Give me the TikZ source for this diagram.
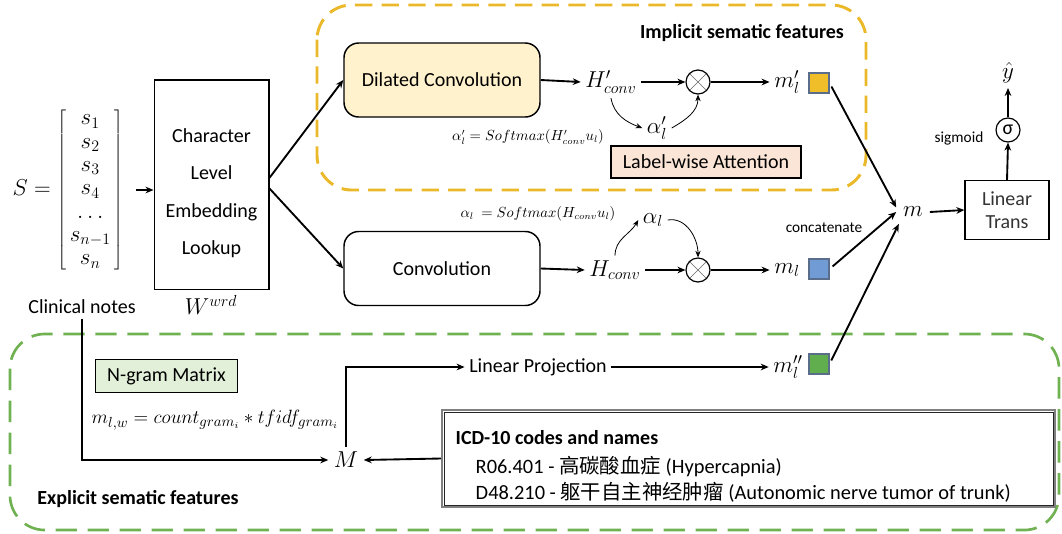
\documentclass[tikz,border=0pt]{standalone}
\usepackage{fontspec}
\setmainfont{Carlito}
\newfontfamily\cjk{Noto Sans CJK SC}
\usetikzlibrary{arrows.meta,calc}
\definecolor{goldd}{RGB}{234,184,40}
\definecolor{greend}{RGB}{112,178,82}
\definecolor{dilfill}{RGB}{255,242,204}
\definecolor{attfill}{RGB}{251,229,214}
\definecolor{ngfill}{RGB}{226,240,217}
\definecolor{sqy}{RGB}{240,190,40}
\definecolor{sqb}{RGB}{112,155,213}
\definecolor{sqg}{RGB}{96,174,78}
\definecolor{sqedge}{RGB}{90,110,140}
\begin{document}
\begin{tikzpicture}[x=0.75pt,y=0.75pt,
  main/.style={font=\fontsize{15}{17.5}\selectfont},
  mth/.style={font=\fontsize{17}{20}\selectfont},
  bold/.style={font=\fontsize{15}{17.5}\selectfont\bfseries},
  small/.style={font=\fontsize{11.5}{13}\selectfont},
  tiny/.style={font=\fontsize{10.5}{12}\selectfont},
  arr/.style={line width=1.4pt,-{Stealth[length=6pt,width=5pt]}},
  thinarr/.style={line width=0.6pt,-{Stealth[length=5pt,width=4pt]}},
  rbox/.style={draw,line width=1.1pt,rounded corners=11pt,minimum width=147pt,minimum height=55.5pt,main},
  sbox/.style={draw,line width=0.9pt,main},
  sq/.style={draw=sqedge,line width=0.8pt,minimum size=15pt,inner sep=0},
  otimes/.style={circle,draw,line width=0.9pt,minimum size=18pt,inner sep=0,
    path picture={\draw[line width=0.5pt,black!60]
      (path picture bounding box.north west)--(path picture bounding box.south east)
      (path picture bounding box.north east)--(path picture bounding box.south west);}},
  ]
\useasboundingbox (0,0) rectangle (1062,-533);
% dashed regions
\draw[goldd,line width=2.2pt,dash pattern=on 13pt off 7pt,rounded corners=26pt] (317,-5) rectangle (866,-190);
\draw[greend,line width=2pt,dash pattern=on 16pt off 8pt,rounded corners=26pt] (10,-334) rectangle (1059,-530);
\node[bold] (impl) at (742,-33) {Implicit sematic features};
\node[bold] (expl) at (138,-499) {Explicit sematic features};
% input
\node[font=\fontsize{17}{17.5}\selectfont,inner sep=0] (S) at (68,-190) {$S=\left[\begin{array}{@{\,}c@{\,}}s_1\\s_2\\s_3\\s_4\\\dots\\s_{n-1}\\s_n\end{array}\right]$};
\node[draw,line width=1pt,minimum width=86pt,minimum height=157pt] (emb) at (211.5,-184.5) {};
\node[font=\fontsize{15}{28}\selectfont,align=center] (embt) at (211.5,-193) {Character\\Level\\Embedding\\Lookup};
\node[mth] (W) at (211,-305) {$W^{wrd}$};
\node[main] (cn) at (82,-307) {Clinical notes};
% upper branch
\node[rbox,fill=dilfill] (dil) at (442,-80) {Dilated Convolution};
\node[mth] (Hp) at (611,-82) {$H'_{conv}$};
\node[otimes] (ot1) at (698,-82) {};
\node[mth] (mp) at (787,-82) {$m'_l$};
\node[sq,fill=sqy] (sq1) at (819,-83) {};
\node[mth] (ap) at (657,-128) {$\alpha'_l$};
\node[tiny] (f1) at (528,-137) {$\alpha'_l = Softmax(H'_{conv}u_l)$};
\node[sbox,fill=attfill,minimum width=142.5pt,minimum height=24pt] (att) at (706,-162) {Label-wise Attention};
% middle branch
\node[rbox] (conv) at (442,-268.5) {Convolution};
\node[mth] (Hc) at (615,-270) {$H_{conv}$};
\node[otimes] (ot2) at (698,-270) {};
\node[mth] (ml) at (787,-270) {$m_l$};
\node[sq,fill=sqb] (sq2) at (819,-269) {};
\node[mth] (al) at (653,-220) {$\alpha_l$};
\node[tiny] (f2) at (538,-214) {$\alpha_l\ = Softmax(H_{conv}u_l)$};
\node[small] (cat) at (824,-228) {concatenate};
% output
\node[mth,inner sep=5pt] (m) at (913,-212) {$m$};
\node[sbox,minimum width=63pt,minimum height=44pt,align=center,text=black!80] (lin) at (1007,-210) {Linear\\Trans};
\node[circle,draw,line width=0.9pt,minimum size=18pt,inner sep=0,main] (sig) at (1008,-130) {σ};
\node[small] (sigl) at (959,-138) {sigmoid};
\node[mth] (yh) at (1008,-73) {$\hat{y}$};
% lower branch
\node[sbox,fill=ngfill,minimum width=106pt,minimum height=25pt] (ng) at (166.5,-376) {N-gram Matrix};
\node[main] (f3) at (215,-420) {$m_{l,w} = count_{gram_i} * tfidf_{gram_i}$};
\node[mth,inner sep=4pt] (M) at (346,-460) {$M$};
\node[main] (LP) at (538,-367) {Linear Projection};
\node[mth] (mpp) at (788,-367) {$m''_l$};
\node[sq,fill=sqg] (sq3) at (819,-364) {};
\node[draw=black!50,line width=1.5pt,minimum width=459.75pt,minimum height=72.75pt] (icd) at (748.5,-458.5) {};
\draw[line width=0.7pt,black!85] ([shift={(3,-3)}]icd.north west) rectangle ([shift={(-3,3)}]icd.south east);
\node[bold,anchor=west] (icdt) at (451,-438) {ICD-10 codes and names};
\node[font=\fontsize{15.3}{18}\selectfont,anchor=west] (icd1) at (471,-467) {R06.401 - {\cjk 高碳酸血症} (Hypercapnia)};
\node[font=\fontsize{15.3}{18}\selectfont,anchor=west] (icd2) at (471,-492) {D48.210 - {\cjk 躯干自主神经肿瘤} (Autonomic nerve tumor of trunk)};
% connectors
\draw[arr] ([xshift=9pt]S.east) -- (S.east -| emb.west);
\draw[arr] ([yshift=5pt]emb.east) -- (dil.west);
\draw[arr] ([yshift=-3pt]emb.east) -- (conv.west);
\draw[arr] (dil.east) -- (Hp.west);
\draw[arr] (Hp.east) -- (ot1.west);
\draw[arr] (ot1.east) -- (mp.west);
\draw[thinarr] (Hp.south) to[out=-80,in=160] (ap.west);
\draw[thinarr] (ap.east) to[out=30,in=-90] (ot1.south);
\draw[arr] (conv.east) -- (Hc.west);
\draw[arr] (Hc.east) -- (ot2.west);
\draw[arr] (ot2.east) -- (ml.west);
\draw[thinarr] (Hc.north) to[out=90,in=-120] (al.west);
\draw[thinarr] (al.east) to[out=10,in=90] (ot2.north);
\draw[arr,shorten <=3pt] (sq1.east) -- (m.165);
\draw[arr,shorten <=3pt] (sq2.east) -- (m.180);
\draw[arr,shorten <=3pt] (sq3.east) -- (m.220);
\draw[arr] (m.east) -- (lin.west);
\draw[arr] (lin.north) -- (sig.south);
\draw[arr] (sig.north) -- (yh.south);
\draw[arr] (cn.south) |- (M.west);
\draw[arr] (icd.west) -- (M.east);
\draw[arr] (M.north) |- (LP.west);
\draw[arr] (LP.east) -- (mpp.west);
\end{tikzpicture}
\end{document}
